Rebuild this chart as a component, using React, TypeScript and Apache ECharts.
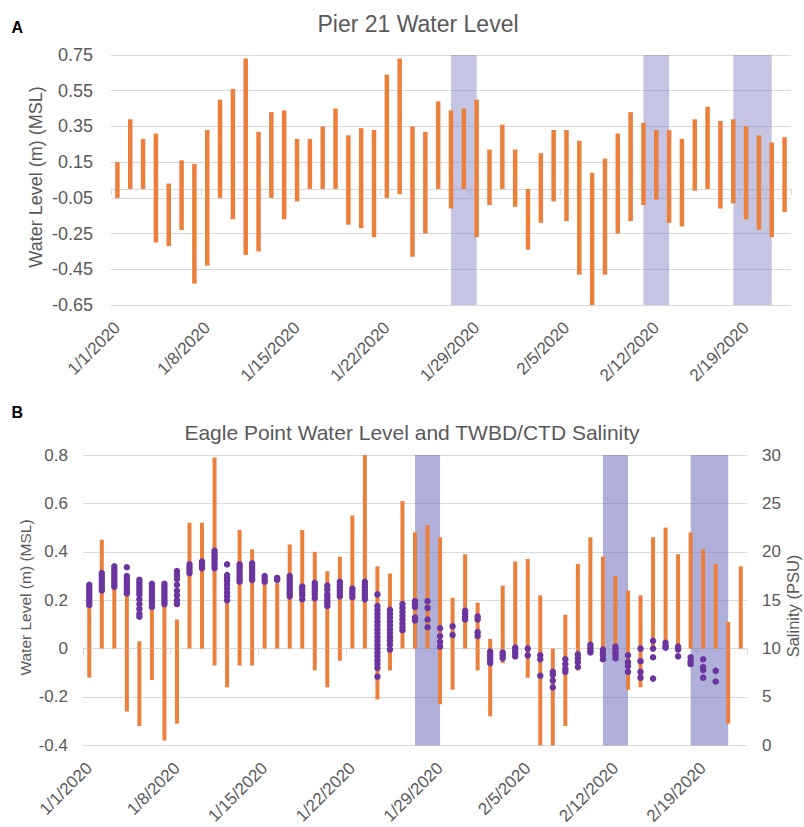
import React, { useEffect, useRef } from 'react';
import * as echarts from 'echarts';

// ---- Categories (daily) ----
const dates: string[] = [
  '1/1/2020', '1/2/2020', '1/3/2020', '1/4/2020', '1/5/2020', '1/6/2020', '1/7/2020',
  '1/8/2020', '1/9/2020', '1/10/2020', '1/11/2020', '1/12/2020', '1/13/2020', '1/14/2020',
  '1/15/2020', '1/16/2020', '1/17/2020', '1/18/2020', '1/19/2020', '1/20/2020', '1/21/2020',
  '1/22/2020', '1/23/2020', '1/24/2020', '1/25/2020', '1/26/2020', '1/27/2020', '1/28/2020',
  '1/29/2020', '1/30/2020', '1/31/2020', '2/1/2020', '2/2/2020', '2/3/2020', '2/4/2020',
  '2/5/2020', '2/6/2020', '2/7/2020', '2/8/2020', '2/9/2020', '2/10/2020', '2/11/2020',
  '2/12/2020', '2/13/2020', '2/14/2020', '2/15/2020', '2/16/2020', '2/17/2020', '2/18/2020',
  '2/19/2020', '2/20/2020', '2/21/2020', '2/22/2020',
];

// ---- Panel A: Pier 21 daily high / low water level (m, MSL) ----
const pierHigh: number[] = [
  0.15, 0.39, 0.28, 0.31, 0.03, 0.16, 0.14, 0.33, 0.50, 0.56,
  0.73, 0.32, 0.43, 0.44, 0.28, 0.28, 0.35, 0.45, 0.30, 0.34,
  0.33, 0.64, 0.73, 0.35, 0.32, 0.49, 0.44, 0.45, 0.50, 0.22,
  0.36, 0.22, 0.00, 0.20, 0.33, 0.33, 0.27, 0.09, 0.17, 0.31,
  0.43, 0.37, 0.33, 0.33, 0.28, 0.39, 0.46, 0.38, 0.39, 0.35,
  0.30, 0.26, 0.29,
];
const pierLow: number[] = [
  -0.05, 0, 0, -0.30, -0.32, -0.23, -0.53, -0.43, -0.05, -0.17,
  -0.37, -0.35, -0.05, -0.17, -0.07, 0, 0, 0, -0.20, -0.22,
  -0.27, -0.05, -0.03, -0.38, -0.25, 0, -0.11, 0, -0.27, -0.09,
  0, -0.10, -0.34, -0.19, -0.07, -0.18, -0.48, -0.65, -0.48, -0.25,
  -0.18, -0.09, -0.06, -0.19, -0.21, -0.01, 0, -0.11, -0.08, -0.17,
  -0.23, -0.27, -0.13,
];

// ---- Panel B: Eagle Point daily high / low water level (m, MSL) ----
const eagleHigh: number[] = [
  0.22, 0.45, 0.34, 0.28, 0.03, 0.20, 0.20, 0.12, 0.52, 0.52,
  0.79, 0.20, 0.49, 0.41, 0.28, 0.27, 0.43, 0.49, 0.40, 0.32,
  0.38, 0.55, 0.80, 0.34, 0.31, 0.61, 0.48, 0.51, 0.46, 0.21,
  0.39, 0.19, 0.04, 0.26, 0.36, 0.37, 0.22, 0.00, 0.14, 0.35,
  0.46, 0.38, 0.30, 0.24, 0.22, 0.46, 0.50, 0.39, 0.48, 0.41,
  0.35, 0.11, 0.34,
];
const eagleLow: number[] = [
  -0.12, 0, 0, -0.26, -0.32, -0.13, -0.38, -0.31, 0, 0,
  -0.07, -0.16, -0.07, -0.07, 0, 0, 0, 0, -0.09, -0.16,
  -0.05, 0, 0, -0.21, -0.09, 0, 0, 0, -0.23, -0.17,
  0, -0.09, -0.28, -0.06, 0, -0.12, -0.40, -0.40, -0.32, -0.09,
  0, 0, 0, -0.17, -0.16, 0, 0, 0, 0, 0,
  0, -0.31, 0,
];

// ---- Panel B: TWBD/CTD salinity readings per day (PSU) ----
const salinityByDay: number[][] = [
  [16.6, 16.3, 16.0, 15.7, 15.4, 15.1, 14.8, 14.5],
  [17.8, 17.5, 17.2, 16.9, 16.6, 16.3, 16.0],
  [18.5, 18.2, 17.9, 17.6, 17.3, 17.0, 16.7, 16.4],
  [18.4, 17.5, 17.2, 16.9, 16.6, 16.3, 16.0, 15.7],
  [17.1, 16.8, 16.5, 16.2, 15.9, 15.6, 15.1, 14.6, 14.1, 13.6, 13.3],
  [16.7, 16.4, 16.1, 15.8, 15.5, 15.2, 14.9, 14.6, 14.3],
  [16.7, 16.4, 16.1, 15.8, 15.5, 15.2, 14.9, 14.6],
  [18.0, 17.6, 17.2, 16.6, 16.0, 15.5, 15.0, 14.6],
  [18.7, 18.4, 18.1, 17.8],
  [19.0, 18.7, 18.4, 18.3],
  [20.1, 19.8, 19.5, 19.2, 18.9, 18.6, 18.3],
  [18.7, 17.6, 17.3, 17.0, 16.6, 16.2, 15.8, 15.4, 15.0],
  [18.7, 18.4, 18.1, 17.8, 17.5, 17.2, 16.9],
  [18.8, 18.5, 18.2, 17.9, 17.6, 17.3, 17.1],
  [17.5, 17.2, 16.9],
  [17.3, 17.1],
  [17.5, 17.2, 16.9, 16.6, 16.3, 16.0, 15.7, 15.4],
  [16.4, 16.1, 15.8, 15.5, 15.1],
  [16.8, 16.5, 16.2, 15.9, 15.6, 15.2],
  [16.5, 16.1, 15.6, 15.3, 15.0, 14.7, 14.4],
  [16.9, 16.6, 16.3, 16.0, 15.7, 15.4],
  [16.2, 15.9, 15.6, 15.3],
  [16.9, 16.6, 16.3, 16.0, 15.7, 15.4, 15.1],
  [15.6, 14.4, 14.0, 13.6, 13.2, 12.8, 12.4, 12.0, 11.6, 11.2, 10.8, 10.4, 10.0, 9.6, 9.2, 8.8, 8.4, 8.0, 7.1],
  [14.0, 13.6, 13.2, 12.8, 12.4, 12.0, 11.6, 11.2, 10.8, 10.4, 9.9],
  [14.6, 14.2, 13.8, 13.4, 13.0, 12.6, 12.2, 11.9],
  [14.9, 14.6, 14.3, 13.2, 12.9],
  [14.9, 14.2, 13.0, 12.2],
  [12.1, 11.3, 10.7, 10.2],
  [12.3, 11.4],
  [13.9, 13.6, 13.3, 13.0],
  [13.3, 13.0, 11.7, 11.3],
  [9.7, 9.4, 9.1, 8.8, 8.5],
  [9.6, 9.3, 9.0],
  [10.1, 9.8, 9.5, 9.2],
  [10.0, 9.3],
  [9.3, 8.9, 7.2],
  [7.6, 7.3, 6.7, 6.0],
  [8.9, 8.4, 7.9, 7.6],
  [9.4, 9.0, 8.6, 8.1],
  [10.4, 10.1, 9.8, 9.6],
  [9.9, 9.6, 9.3, 8.9],
  [10.2, 9.9, 9.6, 9.3, 9.0],
  [9.3, 8.6, 8.2, 7.6],
  [10.0, 8.7, 7.6, 7.0],
  [10.8, 10.0, 9.1, 6.9],
  [10.6, 10.3, 10.1],
  [10.2, 9.9, 9.2],
  [9.1, 8.7, 8.4],
  [8.9, 8.1, 7.8, 7.0],
  [7.7, 6.6],
  [],
  [],
];

// ---- Shaded periods (start, end) ----
const shadedPeriods: [string, string][] = [
  ['1/27/2020', '1/29/2020'],
  ['2/11/2020', '2/13/2020'],
  ['2/18/2020', '2/21/2020'],
];

const FONT = "'Liberation Sans', Arial, Helvetica, sans-serif";
const TEXT = '#595959';
const GRID = '#d9d9d9';
const ORANGE = '#EB7F3C';
const PURPLE = '#6B35A0';

function buildOption(): any {
  const salinityPoints: [number, number][] = [];
  salinityByDay.forEach((vals, i) => vals.forEach((v) => salinityPoints.push([i, v])));
  const periodData = shadedPeriods.map(([a, b]) => [dates.indexOf(a), dates.indexOf(b)]);

  const labelAxis = (gridIndex: number) => ({
    type: 'category',
    gridIndex,
    data: dates,
    position: 'bottom',
    boundaryGap: true,
    axisLine: { show: false, onZero: false },
    axisTick: { show: false },
    splitLine: { show: false },
    axisLabel: {
      interval: 6,
      rotate: 45,
      margin: 20,
      fontSize: 17,
      color: TEXT,
      fontFamily: FONT,
    },
  });
  const lineAxis = (gridIndex: number) => ({
    type: 'category',
    gridIndex,
    data: dates,
    position: 'bottom',
    boundaryGap: true,
    axisLine: { show: true, onZero: true, lineStyle: { color: GRID, width: 1 } },
    axisTick: { show: true, interval: 6, length: 6, lineStyle: { color: GRID } },
    axisLabel: { show: false },
    splitLine: { show: false },
  });

  const shading = (xAxisIndex: number, yAxisIndex: number, color: string) => ({
    type: 'custom',
    name: 'shading',
    xAxisIndex,
    yAxisIndex,
    silent: true,
    z: 1,
    data: periodData,
    encode: { x: [0, 1] },
    renderItem: (params: any, api: any) => {
      const x0 = api.coord([api.value(0), 0])[0];
      const x1 = api.coord([api.value(1), 0])[0];
      const cs = params.coordSys;
      return {
        type: 'rect',
        shape: { x: x0, y: cs.y, width: x1 - x0, height: cs.height },
        style: { fill: color },
      };
    },
  });

  return {
    animation: false,
    backgroundColor: '#ffffff',
    textStyle: { fontFamily: FONT },
    grid: [
      { left: 111, top: 55, width: 680, height: 250, containLabel: false },
      { left: 83, top: 455, width: 664, height: 301, containLabel: false },
    ],
    xAxis: [labelAxis(0), lineAxis(0), labelAxis(1), lineAxis(1)],
    yAxis: [
      {
        type: 'value',
        gridIndex: 0,
        min: -0.65,
        max: 0.75,
        interval: 0.2,
        axisLine: { show: false },
        axisTick: { show: false },
        splitLine: { show: true, lineStyle: { color: GRID, width: 1 } },
        axisLabel: {
          formatter: (v: number) => v.toFixed(2),
          fontSize: 18,
          color: TEXT,
          margin: 18,
          fontFamily: FONT,
        },
      },
      {
        type: 'value',
        gridIndex: 1,
        min: -0.4,
        max: 0.8,
        interval: 0.2,
        axisLine: { show: false },
        axisTick: { show: false },
        splitLine: { show: true, lineStyle: { color: GRID, width: 1 } },
        axisLabel: {
          formatter: (v: number) => String(Math.round(v * 10) / 10),
          fontSize: 17,
          color: TEXT,
          margin: 15,
          fontFamily: FONT,
        },
      },
      {
        type: 'value',
        gridIndex: 1,
        position: 'right',
        min: 0,
        max: 30,
        interval: 5,
        axisLine: { show: false },
        axisTick: { show: false },
        splitLine: { show: false },
        axisLabel: { fontSize: 17, color: TEXT, margin: 15, fontFamily: FONT },
      },
    ],
    series: [
      shading(0, 0, 'rgba(120,120,190,0.43)'),
      {
        type: 'bar',
        name: 'Pier 21 high',
        xAxisIndex: 0,
        yAxisIndex: 0,
        data: pierHigh,
        barWidth: 4.5,
        barGap: '-100%',
        z: 3,
        itemStyle: { color: ORANGE },
      },
      {
        type: 'bar',
        name: 'Pier 21 low',
        xAxisIndex: 0,
        yAxisIndex: 0,
        data: pierLow,
        barWidth: 4.5,
        barGap: '-100%',
        z: 3,
        itemStyle: { color: ORANGE },
      },
      shading(2, 1, 'rgba(110,110,185,0.55)'),
      {
        type: 'bar',
        name: 'Eagle Point high',
        xAxisIndex: 2,
        yAxisIndex: 1,
        data: eagleHigh,
        barWidth: 4,
        barGap: '-100%',
        z: 3,
        itemStyle: { color: ORANGE },
      },
      {
        type: 'bar',
        name: 'Eagle Point low',
        xAxisIndex: 2,
        yAxisIndex: 1,
        data: eagleLow,
        barWidth: 4,
        barGap: '-100%',
        z: 3,
        itemStyle: { color: ORANGE },
      },
      {
        type: 'scatter',
        name: 'Salinity',
        xAxisIndex: 2,
        yAxisIndex: 2,
        data: salinityPoints,
        symbolSize: 6.5,
        z: 4,
        itemStyle: { color: PURPLE, opacity: 1 },
      },
    ],
    graphic: [
      {
        type: 'text',
        x: 11.5,
        y: 27.5,
        style: { text: 'A', font: `bold 16px ${FONT}`, fill: '#000', align: 'left', verticalAlign: 'middle' },
      },
      {
        type: 'text',
        x: 11.5,
        y: 412.5,
        style: { text: 'B', font: `bold 16px ${FONT}`, fill: '#000', align: 'left', verticalAlign: 'middle' },
      },
      {
        type: 'text',
        x: 418,
        y: 23.5,
        style: { text: 'Pier 21 Water Level', font: `23px ${FONT}`, fill: TEXT, align: 'center', verticalAlign: 'middle' },
      },
      {
        type: 'text',
        x: 412,
        y: 432.5,
        style: {
          text: 'Eagle Point Water Level and TWBD/CTD Salinity',
          font: `21px ${FONT}`,
          fill: TEXT,
          align: 'center',
          verticalAlign: 'middle',
        },
      },
      {
        type: 'text',
        x: 36,
        y: 177,
        rotation: Math.PI / 2,
        style: { text: 'Water Level (m) (MSL)', font: `18px ${FONT}`, fill: TEXT, align: 'center', verticalAlign: 'middle' },
      },
      {
        type: 'text',
        x: 25,
        y: 597.5,
        rotation: Math.PI / 2,
        style: { text: 'Water Level (m) (MSL)', font: `15.5px ${FONT}`, fill: TEXT, align: 'center', verticalAlign: 'middle' },
      },
      {
        type: 'text',
        x: 793,
        y: 606,
        rotation: Math.PI / 2,
        style: { text: 'Salinity (PSU)', font: `16.5px ${FONT}`, fill: TEXT, align: 'center', verticalAlign: 'middle' },
      },
    ],
  };
}

export default function App() {
  const ref = useRef<HTMLDivElement>(null);
  useEffect(() => {
    if (!ref.current) return;
    const chart = echarts.init(ref.current, undefined, { renderer: 'svg' });
    chart.setOption(buildOption());
    return () => chart.dispose();
  }, []);
  return (
    <div
      ref={ref}
      style={{ position: 'absolute', left: 0, top: 0, width: 804, height: 827, background: '#fff' }}
    />
  );
}
